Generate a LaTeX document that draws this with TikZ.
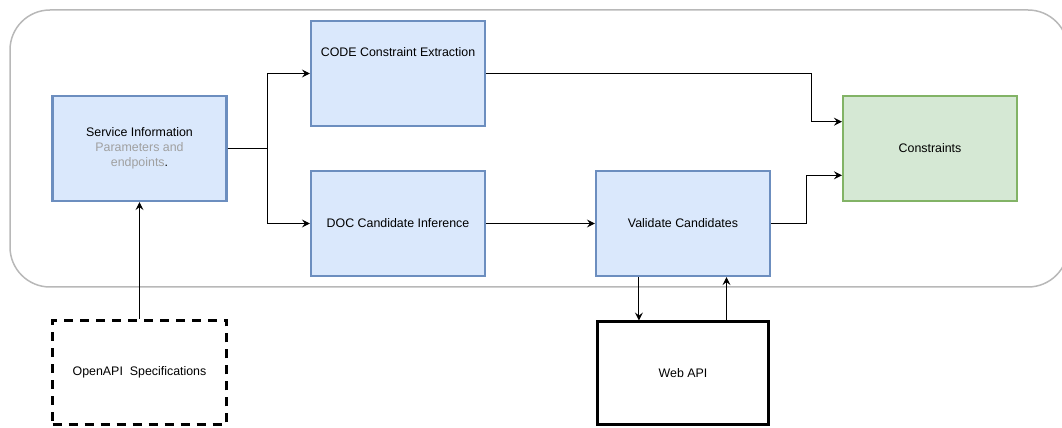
\documentclass[tikz,border=0pt]{standalone}
\usepackage{fontspec}
\setmainfont{Liberation Sans}
\usepackage{tikz}
\usetikzlibrary{arrows.meta,positioning,calc}
\definecolor{blueFill}{HTML}{DAE8FC}
\definecolor{blueLine}{HTML}{6C8EBF}
\definecolor{greenFill}{HTML}{D5E8D4}
\definecolor{greenLine}{HTML}{82B366}
\definecolor{frameGray}{HTML}{B8B8B8}
\definecolor{noteGray}{HTML}{A0A0A0}
\tikzstyle{RECTANGLE_BLUE} = [rectangle, draw=blueLine, fill=blueFill, line width=2.2pt, minimum width=174pt, minimum height=105pt, align=center]
\tikzstyle{RECTANGLE_GREEN} = [rectangle, draw=greenLine, fill=greenFill, line width=2.2pt, minimum width=174pt, minimum height=105pt, align=center]
\tikzstyle{RECTANGLE_DASH} = [rectangle, draw=black, line width=3pt, dash pattern=on 9pt off 7pt, minimum width=174pt, minimum height=104pt, align=center]
\tikzstyle{RECTANGLE_WEB} = [rectangle, draw=black, line width=3pt, minimum width=171pt, minimum height=103pt, align=center]
\tikzstyle{ARROW} = [draw, line width=1pt, ->, >={Stealth[length=8pt,width=8pt,inset=3pt]}]

\begin{document}
\begin{tikzpicture}[x=1pt, y=1pt, node distance=150pt, font=\fontsize{12.4}{15}\selectfont]
\useasboundingbox (0,0) rectangle (1062,428);
% Frame
\node [rectangle, draw=frameGray, line width=1.5pt, rounded corners=40pt, minimum width=1058pt, minimum height=277pt] (frame) at (539,279.5) {};
% Place nodes
\node [RECTANGLE_BLUE] (svc) at (139.5,279.5) {Service Information\\ {\color{noteGray}Parameters and}\\ {\color{noteGray}endpoints}.};
\node [RECTANGLE_BLUE] (code) at (398,354.5) {CODE Constraint Extraction\\[28pt]};
\node [RECTANGLE_BLUE, below of=code] (doc) {DOC Candidate Inference};
\node [RECTANGLE_BLUE, right of=doc, xshift=135pt] (valid) {Validate Candidates};
\node [RECTANGLE_GREEN] (cons) at (930,279.5) {Constraints};
\node [RECTANGLE_DASH, below of=svc, yshift=-74pt] (spec) {OpenAPI~~Specifications};
\node [RECTANGLE_WEB, below of=valid] (web) {Web API};
% Points on the sides
\coordinate (cons_in1) at ($(cons.north west)!.25!(cons.south west)$);
\coordinate (cons_in2) at ($(cons.north west)!.75!(cons.south west)$);
\coordinate (valid_out) at ($(valid.south west)!.25!(valid.south east)$);
\coordinate (web_out) at ($(web.north west)!.75!(web.north east)$);
% LINES and ARROWS
\path [ARROW] (svc.east) -- ++(40,0) |- (code.west);
\path [ARROW] (svc.east) -- ++(40,0) |- (doc.west);
\path [ARROW] (code.east) -| ($(cons_in1)+(-30,0)$) -- (cons_in1);
\path [ARROW] (doc.east) -- (valid.west);
\path [ARROW] (valid.east) -| ($(cons_in2)+(-35,0)$) -- (cons_in2);
\path [ARROW] (valid_out) -- (valid_out |- web.north);
\path [ARROW] (web_out) -- (web_out |- valid.south);
\path [ARROW] (spec.north) -- (svc.south);
\end{tikzpicture}
\end{document}
